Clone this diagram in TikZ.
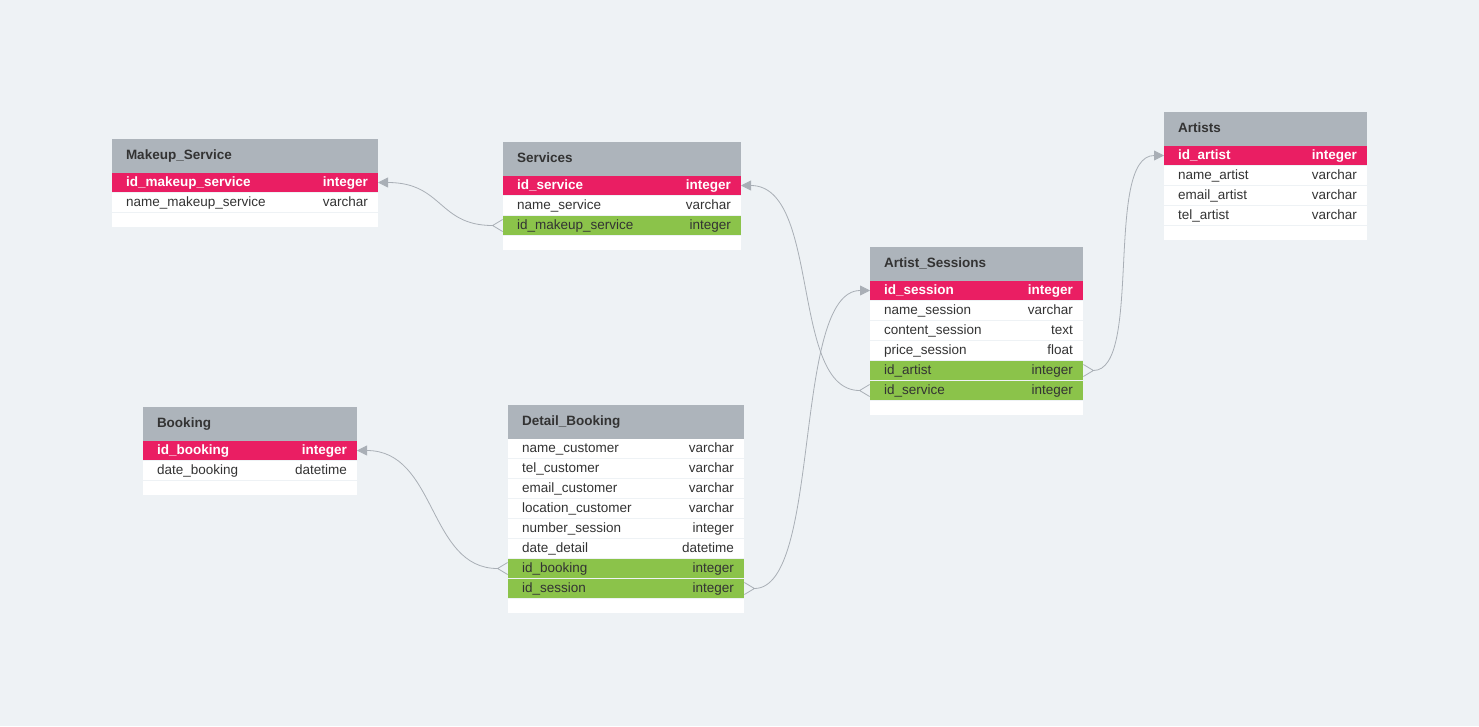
\documentclass[tikz,border=0pt]{standalone}
\usepackage{fontspec}
\setmainfont{Liberation Sans}
\usetikzlibrary{arrows.meta,positioning}
\definecolor{erbg}{HTML}{EEF2F5}
\definecolor{erhead}{HTML}{ADB4BB}
\definecolor{erpink}{HTML}{EA1E63}
\definecolor{ergreen}{HTML}{8BC34A}
\definecolor{erink}{HTML}{333333}
\definecolor{erline}{HTML}{A9AFB6}
\tikzset{
  tw/.style={text width=200pt},
  cell/.style={tw,inner xsep=14pt,inner ysep=0pt,outer sep=0pt,align=left,text height=10pt,text depth=3pt,text=erink,font=\fontsize{13.5}{16}\selectfont},
  head/.style={cell,anchor=north west,fill=erhead,minimum height=34pt,font=\fontsize{13.5}{16}\selectfont\bfseries},
  typ/.style={anchor=east,xshift=-10pt,inner sep=0pt,text height=10pt,text depth=3pt,text=erink,font=\fontsize{13.5}{16}\selectfont},
  fld/.style={cell,fill=white,minimum height=19pt,label={[typ]east:#1}},
  pk/.style={cell,fill=erpink,minimum height=19pt,text=white,font=\fontsize{13.5}{16}\selectfont\bfseries,
    label={[typ,text=white,font=\fontsize{13.5}{16}\selectfont\bfseries]east:#1}},
  fk/.style={fld=#1,fill=ergreen},
  tail/.style={cell,fill=white,minimum height=14pt},
  rel/.style={draw=erline,line width=0.8pt,{Straight Barb[reversed,length=10pt,width=12pt]}-{Triangle[length=10pt,width=10pt]}},
}
\begin{document}
\begin{tikzpicture}[x=1pt,y=-1pt]
  \fill[erbg] (0,0) rectangle (1479,726);
  % makeup service
  \begin{scope}[tw/.style={text width=238pt}]
    \node[head] (mks-hd) at (112,139) {Makeup\_Service};
    \node[pk=integer,below=0pt of mks-hd] (mks-id) {id\_makeup\_service};
    \node[fld=varchar,below=1pt of mks-id] (mks-name) {name\_makeup\_service};
    \node[tail,below=1pt of mks-name] (mks-end) {};
  \end{scope}
  % services
  \begin{scope}[tw/.style={text width=210pt}]
    \node[head] (svc-hd) at (503,142) {Services};
    \node[pk=integer,below=0pt of svc-hd] (svc-id) {id\_service};
    \node[fld=varchar,below=1pt of svc-id] (svc-name) {name\_service};
    \node[fk=integer,below=1pt of svc-name] (svc-mk) {id\_makeup\_service};
    \node[tail,below=1pt of svc-mk] (svc-end) {};
  \end{scope}
  % artist sessions
  \begin{scope}[tw/.style={text width=185pt}]
    \node[head] (as-hd) at (870,247) {Artist\_Sessions};
    \node[pk=integer,below=0pt of as-hd] (as-id) {id\_session};
    \node[fld=varchar,below=1pt of as-id] (as-name) {name\_session};
    \node[fld=text,below=1pt of as-name] (as-cont) {content\_session};
    \node[fld=float,below=1pt of as-cont] (as-price) {price\_session};
    \node[fk=integer,below=1pt of as-price] (as-art) {id\_artist};
    \node[fk=integer,below=1pt of as-art] (as-svc) {id\_service};
    \node[tail,below=1pt of as-svc] (as-end) {};
  \end{scope}
  % artists
  \begin{scope}[tw/.style={text width=175pt}]
    \node[head] (art-hd) at (1164,112) {Artists};
    \node[pk=integer,below=0pt of art-hd] (art-id) {id\_artist};
    \node[fld=varchar,below=1pt of art-id] (art-name) {name\_artist};
    \node[fld=varchar,below=1pt of art-name] (art-mail) {email\_artist};
    \node[fld=varchar,below=1pt of art-mail] (art-tel) {tel\_artist};
    \node[tail,below=1pt of art-tel] (art-end) {};
  \end{scope}
  % booking
  \begin{scope}[tw/.style={text width=186pt}]
    \node[head] (bk-hd) at (143,407) {Booking};
    \node[pk=integer,below=0pt of bk-hd] (bk-id) {id\_booking};
    \node[fld=datetime,below=1pt of bk-id] (bk-date) {date\_booking};
    \node[tail,below=1pt of bk-date] (bk-end) {};
  \end{scope}
  % detail booking
  \begin{scope}[tw/.style={text width=208pt}]
    \node[head] (db-hd) at (508,405) {Detail\_Booking};
    \node[fld=varchar,below=0pt of db-hd] (db-name) {name\_customer};
    \node[fld=varchar,below=1pt of db-name] (db-tel) {tel\_customer};
    \node[fld=varchar,below=1pt of db-tel] (db-mail) {email\_customer};
    \node[fld=varchar,below=1pt of db-mail] (db-loc) {location\_customer};
    \node[fld=integer,below=1pt of db-loc] (db-num) {number\_session};
    \node[fld=datetime,below=1pt of db-num] (db-date) {date\_detail};
    \node[fk=integer,below=1pt of db-date] (db-bk) {id\_booking};
    \node[fk=integer,below=1pt of db-bk] (db-ses) {id\_session};
    \node[tail,below=1pt of db-ses] (db-end) {};
  \end{scope}
  % relations: many side -> key
  \draw[rel] (svc-mk.west) .. controls +(-65,0) and +(65,0) .. (mks-id.east);
  \draw[rel] (as-svc.west) .. controls +(-80,0) and +(80,0) .. (svc-id.east);
  \draw[rel] (db-ses.east) .. controls +(78,0) and +(-78,0) .. (as-id.west);
  \draw[rel] (as-art.east) .. controls +(60,0) and +(-60,0) .. (art-id.west);
  \draw[rel] (db-bk.west) .. controls +(-80,0) and +(80,0) .. (bk-id.east);
\end{tikzpicture}
\end{document}
